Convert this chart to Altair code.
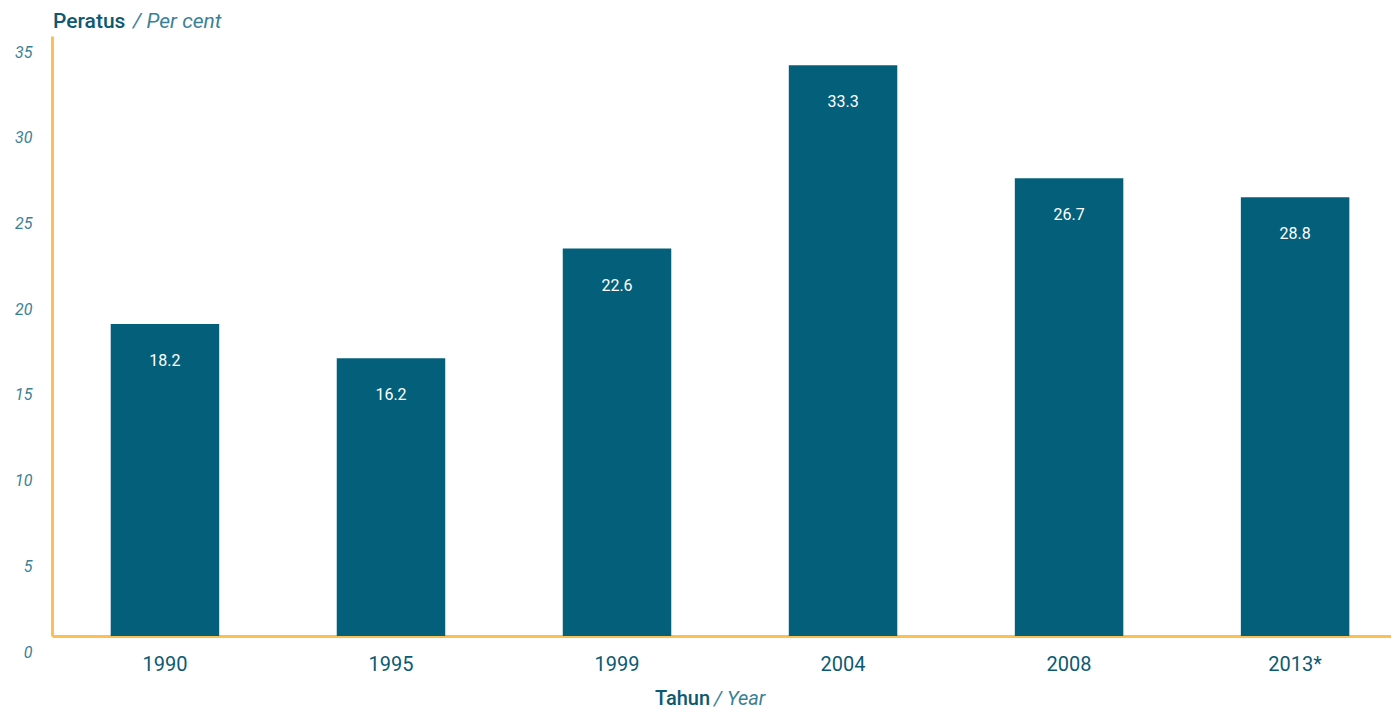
import altair as alt
import pandas as pd

years = ["1990", "1995", "1999", "2004", "2008", "2013*"]
bar_values = [18.2, 16.2, 22.6, 33.3, 26.7, 25.6]
bar_labels = ["18.2", "16.2", "22.6", "33.3", "26.7", "28.8"]
y_ticks = [0, 5, 10, 15, 20, 25, 30, 35]

df = pd.DataFrame({"year": years, "value": bar_values, "label": bar_labels})

FONT = "Roboto"
BAR = "#04607a"
ORANGE = "#fdc050"
DARK = "#0b5a73"
LIGHT = "#3b8196"

x_enc = alt.X("year:N", sort=years, title=None,
              scale=alt.Scale(paddingInner=0.52, paddingOuter=0.222, align=0.585),
              axis=alt.Axis(labelAngle=0, labelFont=FONT, labelFontSize=20,
                            labelColor=DARK, ticks=False, labelPadding=18,
                            domainColor=ORANGE, domainWidth=3, grid=False))
y_enc = alt.Y("value:Q", title=None,
              scale=alt.Scale(domain=[0, 35], nice=False, zero=True),
              axis=alt.Axis(values=y_ticks, labelFont=FONT, labelFontSize=16,
                            labelFontStyle="italic", labelColor=LIGHT,
                            ticks=False, labelPadding=20, labelOffset=16,
                            domainColor=ORANGE, domainWidth=3, grid=False))

bars = alt.Chart(df).mark_bar(color=BAR).encode(x=x_enc, y=y_enc)

labels = alt.Chart(df).mark_text(color="white", font=FONT, fontSize=16,
                                 baseline="middle", yOffset=37).encode(
    x=alt.X("year:N", sort=years), y="value:Q", text="label:N")

t1 = alt.Chart(pd.DataFrame({"t": ["Peratus"]})).mark_text(
    font=FONT, fontSize=21, fontWeight=500, color=DARK, align="left",
    baseline="middle").encode(x=alt.value(1), y=alt.value(-14), text="t:N")
t2 = alt.Chart(pd.DataFrame({"t": ["/ Per cent"]})).mark_text(
    font=FONT, fontSize=21, fontStyle="italic", color=LIGHT, align="left",
    baseline="middle").encode(x=alt.value(81), y=alt.value(-14), text="t:N")
t3 = alt.Chart(pd.DataFrame({"t": ["Tahun"]})).mark_text(
    font=FONT, fontSize=20, fontWeight=500, color=DARK, align="left",
    baseline="alphabetic").encode(x=alt.value(603), y=alt.value(669), text="t:N")
t4 = alt.Chart(pd.DataFrame({"t": ["/ Year"]})).mark_text(
    font=FONT, fontSize=20, fontStyle="italic", color=LIGHT, align="left",
    baseline="alphabetic").encode(x=alt.value(662), y=alt.value(669), text="t:N")

chart = alt.layer(bars, labels, t1, t2, t3, t4).properties(
    width=1339, height=600,
    background="white",
    autosize=alt.AutoSizeParams(type="none"),
    padding={"left": 44, "top": 28, "right": 0, "bottom": 74},
).configure_view(stroke=None)

chart.save("out.html", embed_options={"renderer": "svg", "actions": False})
